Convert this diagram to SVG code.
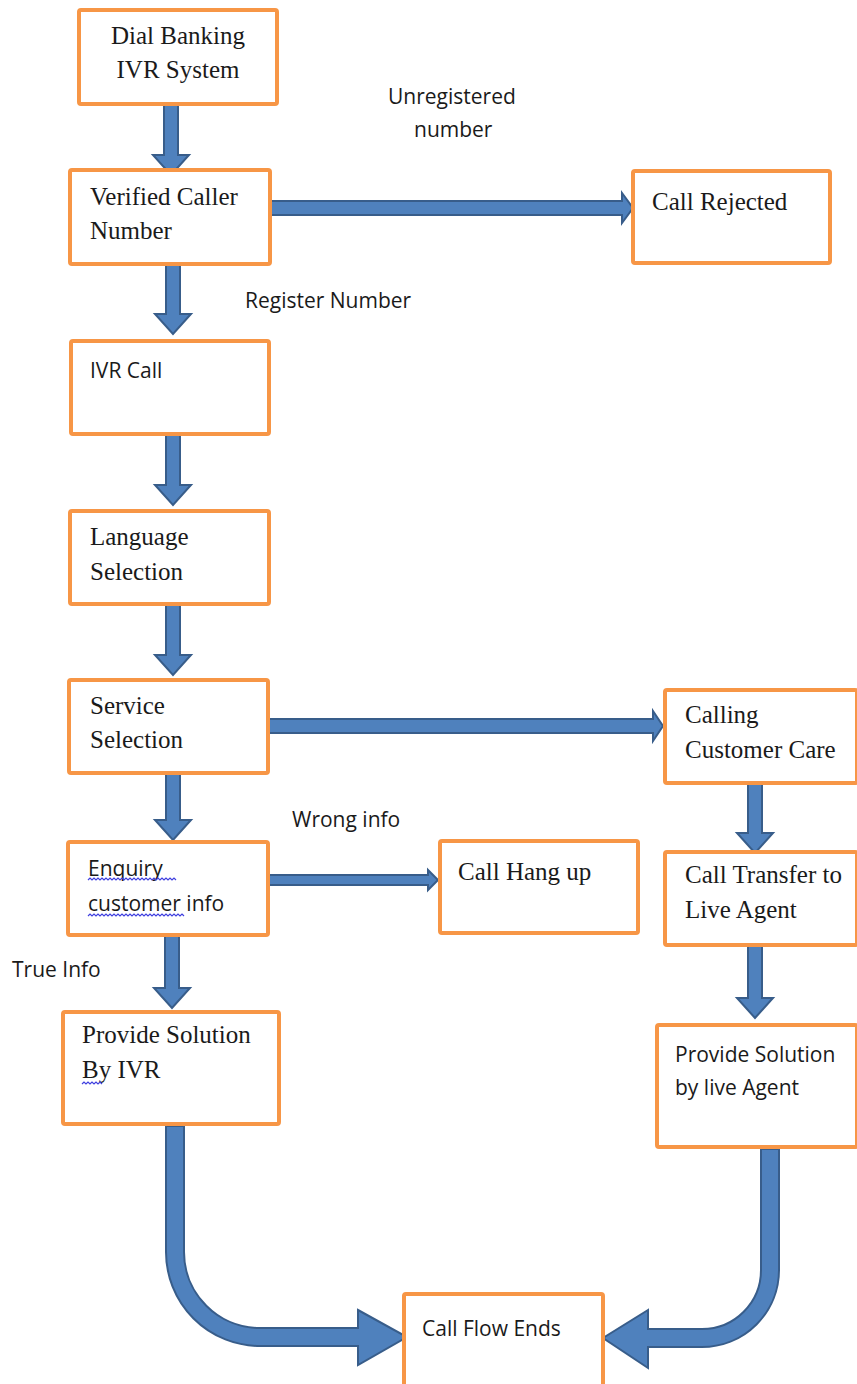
<svg xmlns="http://www.w3.org/2000/svg" width="857" height="1384" viewBox="0 0 857 1384">
<style>
.box{fill:#fff;stroke:#F79646;stroke-width:4;}
.ser{font-family:"Liberation Serif","Times New Roman",serif;font-size:25px;fill:#1a1a1a;}
.san{font-family:"Open Sans","Liberation Sans",sans-serif;font-size:21px;fill:#1a1a1a;}
.arr{fill:#4F81BD;stroke:#385D8A;stroke-width:2;stroke-linejoin:miter;}
.wav{fill:none;stroke:#3f3fdf;stroke-width:1.2;}
</style>
<rect width="857" height="1384" fill="#fff"/>
<g id="connectors">
<polygon class="arr" points="164,103 178,103 178,155 189,155 171,175 153,155 164,155"/>
<polygon class="arr" points="166,265 180,265 180,314 191,314 173,334 155,314 166,314"/>
<polygon class="arr" points="166,434 180,434 180,485 191,485 173,505 155,485 166,485"/>
<polygon class="arr" points="166,604 180,604 180,655 191,655 173,675 155,655 166,655"/>
<polygon class="arr" points="166,774 180,774 180,820 191,820 173,840 155,820 166,820"/>
<polygon class="arr" points="165,935 179,935 179,988 190,988 172,1008 154,988 165,988"/>
<polygon class="arr" points="748,784 762,784 762,833 773,833 755,853 737,833 748,833"/>
<polygon class="arr" points="748,945 762,945 762,998 773,998 755,1018 737,998 748,998"/>
<polygon class="arr" points="270,201 622,201 622,193 633,208 622,223 622,215 270,215"/>
<polygon class="arr" points="268,719 653,719 653,711 663,726 653,741 653,733 268,733"/>
<polygon class="arr" points="268,875 428,875 428,870 438,880 428,890 428,885 268,885"/>
<polygon class="arr" points="358,1310 407,1337 358,1365"/>
<path d="M175,1125 V1252 A85,85 0 0 0 260,1337 H358" fill="none" stroke="#385D8A" stroke-width="20"/>
<path d="M175,1127 V1252 A85,85 0 0 0 260,1337 H361" fill="none" stroke="#4F81BD" stroke-width="16"/>
<polygon class="arr" points="648,1310 603,1338 648,1368"/>
<path d="M770,1148 V1270 A68,68 0 0 1 702,1338 H648" fill="none" stroke="#385D8A" stroke-width="20"/>
<path d="M770,1150 V1270 A68,68 0 0 1 702,1338 H645" fill="none" stroke="#4F81BD" stroke-width="16"/>
</g>
<g id="labels">
<text class="san" x="388" y="104">Unregistered</text>
<text class="san" x="414" y="137">number</text>
<text class="san" x="245" y="308">Register Number</text>
<text class="san" x="292" y="827">Wrong info</text>
<text class="san" x="12" y="977">True Info</text>
</g>
<g id="n-dial"><rect class="box" x="79" y="10" width="198" height="94" rx="2"/>
<text class="ser" x="178" y="44" text-anchor="middle">Dial Banking</text>
<text class="ser" x="178" y="78" text-anchor="middle">IVR System</text></g>
<g id="n-verified"><rect class="box" x="70" y="170" width="200" height="94" rx="2"/>
<text class="ser" x="90" y="205">Verified Caller</text>
<text class="ser" x="90" y="239">Number</text></g>
<g id="n-rejected"><rect class="box" x="633" y="171" width="197" height="92" rx="2"/>
<text class="ser" x="652" y="210">Call Rejected</text></g>
<g id="n-ivrcall"><rect class="box" x="71" y="341" width="198" height="93" rx="2"/>
<text class="san" x="90" y="378">IVR Call</text></g>
<g id="n-language"><rect class="box" x="70" y="511" width="199" height="93" rx="2"/>
<text class="ser" x="90" y="545">Language</text>
<text class="ser" x="90" y="580">Selection</text></g>
<g id="n-service"><rect class="box" x="69" y="680" width="199" height="93" rx="2"/>
<text class="ser" x="90" y="714">Service</text>
<text class="ser" x="90" y="748">Selection</text></g>
<g id="n-calling"><rect class="box" x="665" y="690" width="192" height="93" rx="2"/>
<text class="ser" x="685" y="723">Calling</text>
<text class="ser" x="685" y="758">Customer Care</text></g>
<g id="n-enquiry"><rect class="box" x="68" y="842" width="200" height="93" rx="2"/>
<text class="san" x="88" y="876">Enquiry</text>
<text class="san" x="88" y="911">customer info</text>
<path class="wav" d="M88,880 l2,-2 l2,2 l2,-2 l2,2 l2,-2 l2,2 l2,-2 l2,2 l2,-2 l2,2 l2,-2 l2,2 l2,-2 l2,2 l2,-2 l2,2 l2,-2 l2,2 l2,-2 l2,2 l2,-2 l2,2 l2,-2 l2,2 l2,-2 l2,2 l2,-2 l2,2 l2,-2 l2,2 l2,-2 l2,2 l2,-2 l2,2 l2,-2 l2,2 l2,-2 l2,2 l2,-2 l2,2 l2,-2 l2,2 l2,-2 l2,2"/>
<path class="wav" d="M88,916 l2,-2 l2,2 l2,-2 l2,2 l2,-2 l2,2 l2,-2 l2,2 l2,-2 l2,2 l2,-2 l2,2 l2,-2 l2,2 l2,-2 l2,2 l2,-2 l2,2 l2,-2 l2,2 l2,-2 l2,2 l2,-2 l2,2 l2,-2 l2,2 l2,-2 l2,2 l2,-2 l2,2 l2,-2 l2,2 l2,-2 l2,2 l2,-2 l2,2 l2,-2 l2,2 l2,-2 l2,2 l2,-2 l2,2 l2,-2 l2,2 l2,-2 l2,2 l2,-2 l2,2"/></g>
<g id="n-hangup"><rect class="box" x="440" y="841" width="198" height="92" rx="2"/>
<text class="ser" x="458" y="880">Call Hang up</text></g>
<g id="n-transfer"><rect class="box" x="665" y="852" width="192" height="93" rx="2"/>
<text class="ser" x="685" y="883">Call Transfer to</text>
<text class="ser" x="685" y="918">Live Agent</text></g>
<g id="n-solution-ivr"><rect class="box" x="63" y="1012" width="216" height="112" rx="2"/>
<text class="ser" x="82" y="1043">Provide Solution</text>
<text class="ser" x="82" y="1078">By IVR</text>
<path class="wav" d="M82,1084 l2,-2 l2,2 l2,-2 l2,2 l2,-2 l2,2 l2,-2 l2,2 l2,-2 l2,2"/></g>
<g id="n-solution-agent"><rect class="box" x="657" y="1025" width="200" height="122" rx="2"/>
<text class="san" x="675" y="1062">Provide Solution</text>
<text class="san" x="675" y="1095">by live Agent</text></g>
<g id="n-end"><rect class="box" x="404" y="1294" width="199" height="100" rx="2"/>
<text class="san" x="422" y="1336">Call Flow Ends</text></g>
</svg>
